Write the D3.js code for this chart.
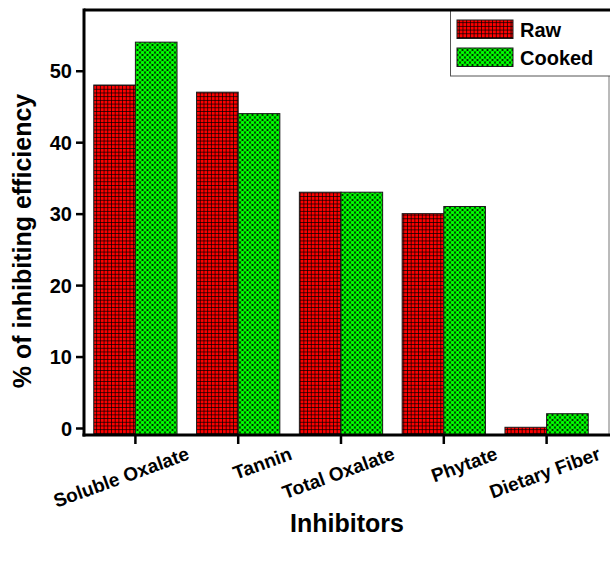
<!DOCTYPE html>
<html><head><meta charset="utf-8">
<script src="https://cdn.jsdelivr.net/npm/d3@7"></script>
<style>
html,body{margin:0;padding:0;background:#fff;}
text{font-family:"Liberation Sans",Arial,sans-serif;font-weight:bold;fill:#000;}
</style></head>
<body><svg id="c" width="610" height="564"></svg>
<script>
const categories = ["Soluble Oxalate","Tannin","Total Oxalate","Phytate","Dietary Fiber"];
const seriesNames = ["Raw","Cooked"];
const rawValues = [48, 47, 33, 30, 0.1];
const cookedValues = [54, 44, 33, 31, 2];
const yTicks = [0, 10, 20, 30, 40, 50];
const xTitle = "Inhibitors";
const yTitle = "% of inhibiting efficiency";

const svg = d3.select("#c");
const W = 610, H = 564;
const plot = {left: 84, top: 10, right: 609, bottom: 435};

const defs = svg.append("defs");
// red grid pattern
const pr = defs.append("pattern").attr("id","pRaw").attr("patternUnits","userSpaceOnUse")
  .attr("width",3.7).attr("height",3.7);
pr.append("rect").attr("width",3.7).attr("height",3.7).attr("fill","#000");
pr.append("rect").attr("x",0.7).attr("y",0.7).attr("width",3.0).attr("height",3.0).attr("fill","#ff0000");
// green dotted pattern
const pc = defs.append("pattern").attr("id","pCooked").attr("patternUnits","userSpaceOnUse")
  .attr("width",5).attr("height",5);
pc.append("rect").attr("width",5).attr("height",5).attr("fill","#000");
[[0,0],[5,0],[0,5],[5,5],[2.5,2.5]].forEach(([cx,cy])=>{
  pc.append("circle").attr("cx",cx).attr("cy",cy).attr("r",1.8).attr("fill","#00ff00");
});
const fills = ["url(#pRaw)","url(#pCooked)"];

const x = d3.scaleBand().domain(categories).range([plot.left, 598])
  .paddingInner(0.19).paddingOuter(0.095);
const xs = d3.scaleBand().domain(seriesNames).range([0, x.bandwidth()]);
const y = d3.scaleLinear().domain([-0.98, 58.5]).range([plot.bottom, plot.top]);

const data = categories.map((c,i)=>({cat:c, vals:[rawValues[i], cookedValues[i]]}));

const g = svg.append("g");
data.forEach(d=>{
  d.vals.forEach((v,j)=>{
    g.append("rect")
      .attr("x", x(d.cat) + xs(seriesNames[j]))
      .attr("width", xs.bandwidth())
      .attr("y", y(v))
      .attr("height", plot.bottom - y(v))
      .attr("fill", fills[j])
      .attr("stroke", "#1a1a1a").attr("stroke-width", 1);
  });
});

// frame
svg.append("line").attr("x1",plot.right).attr("x2",plot.right).attr("y1",plot.top).attr("y2",plot.bottom)
  .attr("stroke","#777").attr("stroke-width",1);

// y axis
const yAxis = d3.axisLeft(y).tickValues(yTicks).tickSize(8).tickPadding(4).tickFormat(d3.format("d"));
const ya = svg.append("g").attr("transform",`translate(${plot.left},0)`).call(yAxis);
ya.select(".domain").remove();
ya.selectAll(".tick line").attr("stroke","#000").attr("stroke-width",2.5);
ya.selectAll(".tick text").style("font-size","20px").style("font-family","Liberation Sans").style("font-weight","bold").attr("dy","0.36em");
svg.append("line").attr("x1",plot.left).attr("x2",plot.left).attr("y1",plot.top-1.5).attr("y2",plot.bottom+1.5)
  .attr("stroke","#000").attr("stroke-width",3);

// x axis
const xAxis = d3.axisBottom(x).tickSize(9).tickFormat("");
const xa = svg.append("g").attr("transform",`translate(0,${plot.bottom})`).call(xAxis);
xa.select(".domain").remove();
xa.selectAll(".tick line").attr("stroke","#000").attr("stroke-width",2.5);
svg.append("line").attr("x1",plot.left-1.5).attr("x2",W).attr("y1",plot.bottom).attr("y2",plot.bottom)
  .attr("stroke","#000").attr("stroke-width",3);

// x tick labels rotated
svg.append("g").selectAll("text").data(categories).join("text")
  .attr("transform", d=>`translate(${x(d)+x.bandwidth()/2+55},${plot.bottom+24}) rotate(-20)`)
  .attr("text-anchor","end")
  .style("font-size","19px")
  .text(d=>d);

// titles
svg.append("text").attr("x", 347).attr("y", 532).attr("text-anchor","middle")
  .style("font-size","25px").text(xTitle);
svg.append("text").attr("transform","translate(31,241) rotate(-90)").attr("text-anchor","middle")
  .style("font-size","25px").text(yTitle);

// legend
const lg = svg.append("g");
lg.append("rect").attr("x",450.5).attr("y",plot.top).attr("width",170).attr("height",66)
  .attr("fill","#fff").attr("stroke","#555").attr("stroke-width",1);
svg.append("line").attr("x1",plot.left).attr("x2",W).attr("y1",plot.top).attr("y2",plot.top)
  .attr("stroke","#000").attr("stroke-width",3);
seriesNames.forEach((s,i)=>{
  const yy = 20 + i*28;
  lg.append("rect").attr("x",457).attr("y",yy).attr("width",56).attr("height",18.5)
    .attr("fill",fills[i]).attr("stroke","#1a1a1a").attr("stroke-width",1);
  lg.append("text").attr("x",520).attr("y",yy+17).style("font-size","20px").text(s);
});
</script></body></html>
